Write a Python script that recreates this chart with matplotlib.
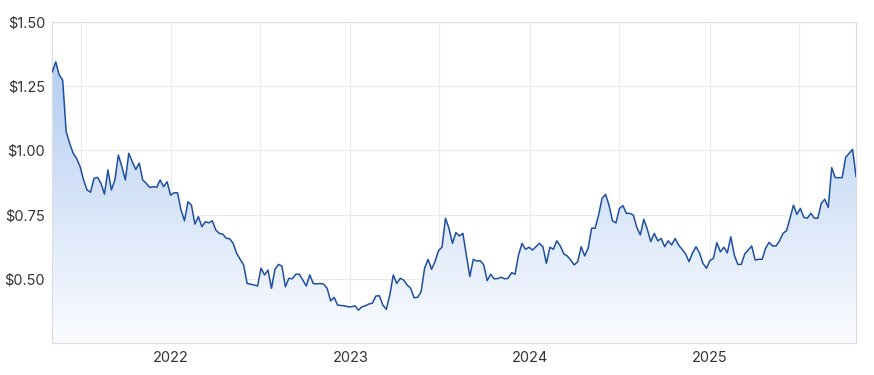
import numpy as np
import pandas as pd
import matplotlib
matplotlib.use("Agg")
import matplotlib.pyplot as plt
import matplotlib.dates as mdates
from matplotlib.colors import LinearSegmentedColormap
from matplotlib.ticker import FuncFormatter

plt.rcParams['font.family'] = ['Inter', 'DejaVu Sans']

# weekly closing prices
prices_2021_22 = [1.306, 1.345, 1.294, 1.274, 1.073, 1.028, 0.989, 0.969, 0.937, 0.885,
                  0.846, 0.837, 0.891, 0.895, 0.872, 0.830, 0.924, 0.846, 0.885, 0.982,
                  0.937, 0.885, 0.989, 0.956, 0.926, 0.950, 0.885, 0.872, 0.856, 0.859,
                  0.856, 0.885, 0.859, 0.878, 0.826, 0.835, 0.835, 0.768, 0.726, 0.800,
                  0.787, 0.713, 0.742, 0.703, 0.722, 0.718, 0.726, 0.690, 0.677, 0.674,
                  0.658, 0.656, 0.638, 0.599, 0.576, 0.554, 0.482, 0.479, 0.476, 0.472,
                  0.541, 0.515, 0.534, 0.463, 0.537, 0.556, 0.550, 0.469]
prices_2022_24 = [0.502, 0.500, 0.518, 0.518, 0.495, 0.472, 0.515, 0.482, 0.480, 0.482,
                  0.479, 0.463, 0.414, 0.428, 0.398, 0.396, 0.395, 0.391, 0.391, 0.395,
                  0.378, 0.391, 0.395, 0.402, 0.405, 0.433, 0.434, 0.398, 0.381, 0.437,
                  0.515, 0.482, 0.502, 0.495, 0.476, 0.463, 0.426, 0.428, 0.450, 0.541,
                  0.576, 0.537, 0.567, 0.610, 0.623, 0.736, 0.697, 0.638, 0.680, 0.667,
                  0.677, 0.593, 0.509, 0.576, 0.569, 0.571, 0.554, 0.493, 0.518, 0.500,
                  0.501, 0.506, 0.500, 0.502, 0.524, 0.518, 0.593, 0.638, 0.615, 0.623,
                  0.612, 0.625, 0.638, 0.625, 0.560, 0.623, 0.615, 0.648, 0.628, 0.597,
                  0.589, 0.573, 0.554]
prices_2024_25 = [0.567, 0.625, 0.589, 0.619, 0.697, 0.697, 0.748, 0.813, 0.829, 0.787,
                  0.726, 0.718, 0.774, 0.785, 0.755, 0.755, 0.748, 0.700, 0.671, 0.732,
                  0.693, 0.645, 0.677, 0.648, 0.657, 0.625, 0.648, 0.632, 0.657, 0.631,
                  0.615, 0.597, 0.567, 0.601, 0.625, 0.601, 0.560, 0.541, 0.571, 0.580,
                  0.641, 0.605, 0.623, 0.601, 0.664, 0.593, 0.556, 0.556, 0.597, 0.612,
                  0.628, 0.573, 0.576, 0.576, 0.619, 0.642, 0.628, 0.628, 0.648, 0.677,
                  0.687, 0.736, 0.787, 0.751, 0.774, 0.739, 0.736, 0.755, 0.736, 0.736,
                  0.794, 0.810, 0.778, 0.933, 0.894, 0.894, 0.894, 0.973, 0.989, 1.004,
                  0.898]

prices = np.array(prices_2021_22 + prices_2022_24 + prices_2024_25)
dates = pd.date_range("2021-05-04", "2025-10-26", periods=len(prices))

y_ticks = [0.50, 0.75, 1.00, 1.25, 1.50]
y_min, y_max = 0.25, 1.50

line_col = "#1f4fa0"
grid_col = "#ebebeb"
text_col = "#333333"

fig = plt.figure(figsize=(8.74, 3.75), dpi=100)
ax = fig.add_axes([0.0595, 0.0853, 0.92, 0.856])

x = mdates.date2num(dates)

# gradient fill under the line
poly = ax.fill_between(x, prices, y_min, color="none", lw=0)
cmap = LinearSegmentedColormap.from_list("fade", ["#fbfcff", "#b3cdf2"])
grad = np.linspace(0, 1, 256).reshape(-1, 1)
img = ax.imshow(grad, cmap=cmap, aspect="auto", origin="lower",
                extent=[x[0], x[-1], y_min, prices.max()], zorder=1)
img.set_clip_path(poly.get_paths()[0], transform=ax.transData)

ax.plot(x, prices, color=line_col, lw=1.1, zorder=3)

ax.set_xlim(x[0] - 0.5, x[-1])
ax.set_ylim(y_min, y_max)

ax.set_yticks(y_ticks)
ax.yaxis.set_major_formatter(FuncFormatter(lambda v, p: f"${v:.2f}"))

ax.xaxis.set_major_locator(mdates.YearLocator())
ax.xaxis.set_major_formatter(mdates.DateFormatter("%Y"))
ax.xaxis.set_minor_locator(mdates.MonthLocator(bymonth=7))

ax.grid(True, which="both", axis="x", color=grid_col, lw=0.8, zorder=0)
ax.grid(True, which="major", axis="y", color=grid_col, lw=0.8, zorder=0)
ax.set_axisbelow(True)

ax.tick_params(which="both", length=0, colors=text_col, labelsize=10.5)
ax.tick_params(axis="x", pad=6)
ax.tick_params(axis="y", pad=5)

for s in ax.spines.values():
    s.set_color("#dddddd")
    s.set_linewidth(0.8)

fig.savefig("out.png", dpi=100)
